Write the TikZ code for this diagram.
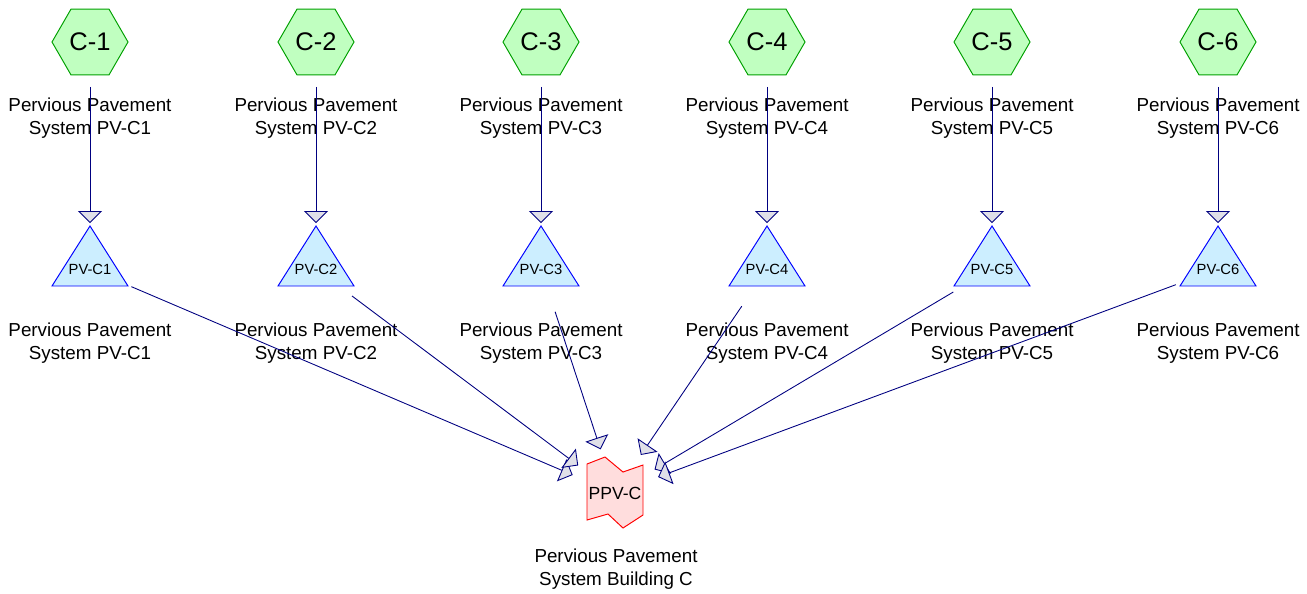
\documentclass[tikz,border=0pt]{standalone}
\usepackage{fontspec}
\setmainfont{Liberation Sans}
\usetikzlibrary{positioning,arrows.meta,shapes.geometric,backgrounds}

\definecolor{hexfill}{HTML}{C0FFC0}
\definecolor{hexline}{HTML}{00A000}
\definecolor{trifill}{HTML}{CCEEFF}
\definecolor{triline}{HTML}{0000FF}
\definecolor{flowline}{HTML}{000080}
\definecolor{headfill}{HTML}{E0E0E8}
\definecolor{ppvfill}{HTML}{FFDDDD}
\definecolor{ppvline}{HTML}{FF0000}

\begin{document}
\begin{tikzpicture}[x=0.02cm, y=-0.02cm,
    catch/.style={regular polygon, regular polygon sides=6, minimum size=1.52cm, inner sep=0pt,
      draw=hexline, fill=hexfill, line width=0.55pt, font=\fontsize{14.5}{17}\selectfont},
    tri/.style={inner sep=0pt, font=\fontsize{8.4}{10}\selectfont},
    tribox/.style={draw=triline, fill=trifill, line width=0.55pt},
    ppvtext/.style={inner sep=0pt, font=\fontsize{10}{12}\selectfont},
    ppvbox/.style={draw=ppvline, fill=ppvfill, line width=0.55pt},
    caption/.style={inner sep=0pt, align=center, anchor=north, font=\fontsize{10.7}{12.9}\selectfont},
    flow/.style={draw=flowline, line width=0.5pt, -{Triangle[length=0.24cm, width=0.48cm, fill=headfill]},
      shorten <=0.9cm, shorten >=0.92cm}]
    \useasboundingbox (0,0) rectangle (1307,593);

    % catchments
    \node[catch] (c1) at (90,42) {C-1};
    \node[catch] (c2) at (316,42) {C-2};
    \node[catch] (c3) at (541,42) {C-3};
    \node[catch] (c4) at (767,42) {C-4};
    \node[catch] (c5) at (992,42) {C-5};
    \node[catch] (c6) at (1218,42) {C-6};

    \node[caption] (lc1) at (90,98) {Pervious Pavement\\System PV-C1};
    \node[caption] (lc2) at (316,98) {Pervious Pavement\\System PV-C2};
    \node[caption] (lc3) at (541,98) {Pervious Pavement\\System PV-C3};
    \node[caption] (lc4) at (767,98) {Pervious Pavement\\System PV-C4};
    \node[caption] (lc5) at (992,98) {Pervious Pavement\\System PV-C5};
    \node[caption] (lc6) at (1218,98) {Pervious Pavement\\System PV-C6};

    % pavement systems
    \node[tri] (t1) at (90,269) {PV-C1};
    \node[tri] (t2) at (316,269) {PV-C2};
    \node[tri] (t3) at (541,269) {PV-C3};
    \node[tri] (t4) at (767,269) {PV-C4};
    \node[tri] (t5) at (992,269) {PV-C5};
    \node[tri] (t6) at (1218,269) {PV-C6};

    \node[caption] (lt1) at (90,323) {Pervious Pavement\\System PV-C1};
    \node[caption] (lt2) at (316,323) {Pervious Pavement\\System PV-C2};
    \node[caption] (lt3) at (541,323) {Pervious Pavement\\System PV-C3};
    \node[caption] (lt4) at (767,323) {Pervious Pavement\\System PV-C4};
    \node[caption] (lt5) at (992,323) {Pervious Pavement\\System PV-C5};
    \node[caption] (lt6) at (1218,323) {Pervious Pavement\\System PV-C6};

    % building outlet
    \node[ppvtext] (ppv) at (615,493) {PPV-C};
    \node[caption] (lppv) at (616,549) {Pervious Pavement\\System Building C};

    \begin{scope}[on background layer]
      \foreach \n in {1,...,6}
        \draw[tribox, shift={(t\n.center)}] (0,-43) -- (38,17) -- (-38,17) -- cycle;
      \draw[ppvbox, shift={(ppv.center)}] (-28,-29) -- (-10,-36) -- (8,-21) -- (28,-28)
        -- (28,22) -- (8,35) -- (-7,21) -- (-28,27) -- cycle;
    \end{scope}

    \foreach \n in {1,...,6} {
      \draw[flow] (c\n.center) -- (t\n.center);
      \draw[flow] (t\n.center) -- (ppv.center);
    }
\end{tikzpicture}
\end{document}
